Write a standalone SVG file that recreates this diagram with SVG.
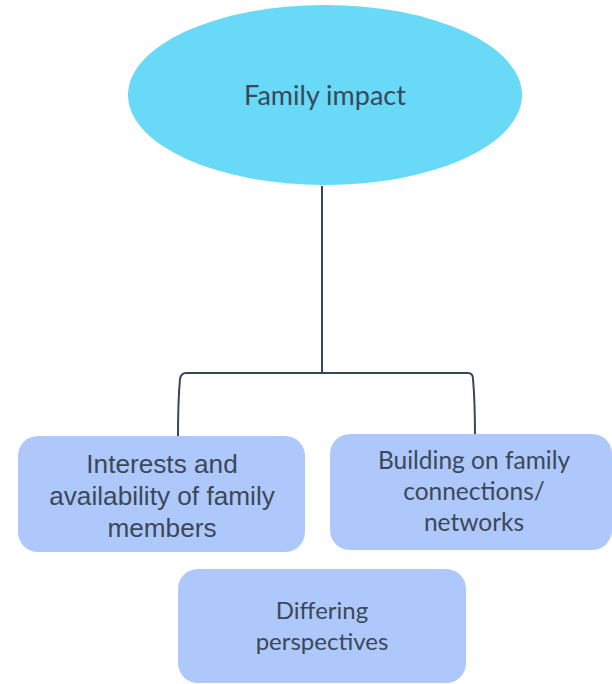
<svg xmlns="http://www.w3.org/2000/svg" width="612" height="684" viewBox="0 0 612 684">
<style>
.box{fill:#aec8fb;}
.t{fill:#3a4859;text-anchor:middle;}
.c{font-family:"Lato","Open Sans",sans-serif;}
.a{font-family:"Liberation Sans",Arial,sans-serif;}
.conn{fill:none;stroke:#37475a;stroke-width:2;}
</style>
<rect width="612" height="684" fill="#ffffff"/>
<g id="connectors">
<path class="conn" d="M322 186 V373"/>
<path class="conn" d="M178 436 C178 410 179 390 180 379 Q181 373 186 373 H468 Q473 373 473 379 C474 390 475 410 475 437"/>
</g>
<g id="family-impact">
<ellipse cx="325" cy="95" rx="197" ry="90" fill="#68d9f7"/>
<text class="t c" x="325" y="105" font-size="27">Family impact</text>
</g>
<g id="interests">
<rect class="box" x="18" y="436" width="287" height="116" rx="20"/>
<text class="t a" x="162" y="473" font-size="26.2">Interests and</text>
<text class="t a" x="162" y="505" font-size="26.2">availability of family</text>
<text class="t a" x="162" y="537" font-size="26.2">members</text>
</g>
<g id="building">
<rect class="box" x="330" y="434" width="282" height="116" rx="20"/>
<text class="t c" x="474" y="469" font-size="24.5">Building on family</text>
<text class="t c" x="474" y="500" font-size="24.5">connections/</text>
<text class="t c" x="474" y="531" font-size="24.5">networks</text>
</g>
<g id="differing">
<rect class="box" x="178" y="569" width="288" height="114" rx="20"/>
<text class="t c" x="322" y="619" font-size="24">Differing</text>
<text class="t c" x="322" y="650" font-size="24">perspectives</text>
</g>
</svg>
